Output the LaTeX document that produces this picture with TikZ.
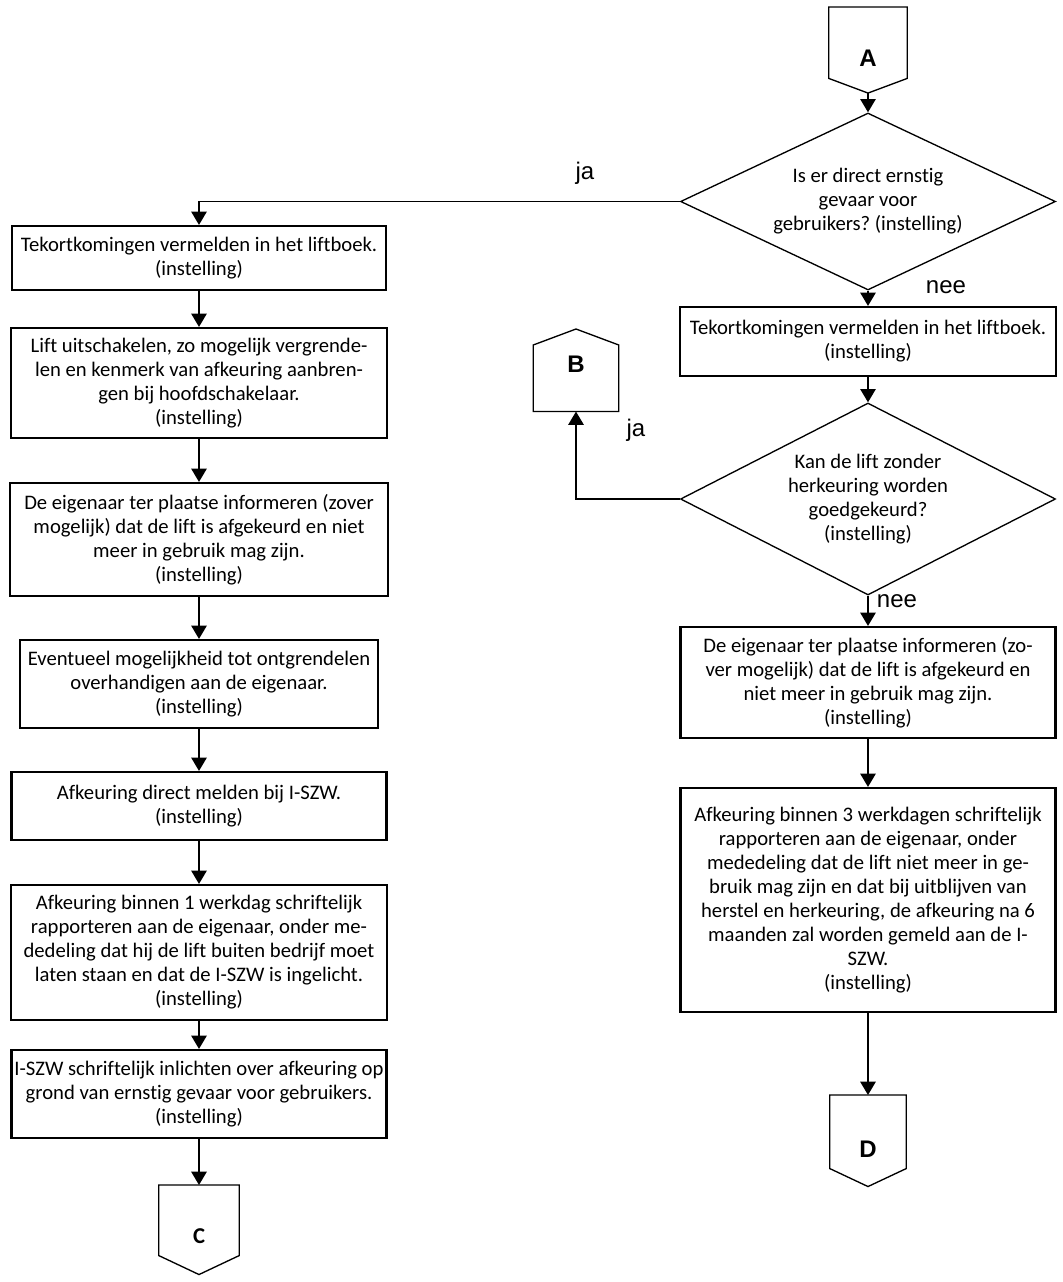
\documentclass[tikz,border=0pt]{standalone}
\usepackage{fontspec}
\setmainfont{Carlito}[Ligatures=NoCommon]
\newfontfamily\labelfont{Liberation Sans}
\usetikzlibrary{
  arrows.meta,
  shapes.geometric
}

\newcommand{\flowfont}{\fontsize{15.5pt}{18pt}\selectfont}
\frenchspacing

\begin{document}
\begin{tikzpicture}[
  x=0.75pt, y=-0.75pt,
  box/.style={
    rectangle, draw, line width=1.6pt,
    align=center, font=\flowfont, inner sep=0pt
  },
  choice/.style={
    diamond, draw, line width=1pt, shape aspect=2,
    align=center, font=\flowfont, inner sep=0pt
  },
  offpage/.style={
    inner sep=0pt,
    font=\labelfont\fontsize{18pt}{18pt}\selectfont\bfseries
  },
  shapeline/.style={line width=1pt},
  flow/.style={
    line width=1.4pt,
    -{Triangle[length=10pt, width=11.5pt]}
  },
  answer/.style={font=\labelfont\fontsize{18pt}{18pt}\selectfont}
]
  \useasboundingbox (0,0) rectangle (1063,1282);

  % Right column: start A, checks, end D
  \node[offpage, minimum width=58.5pt, text height=44.25pt,
    text depth=19.9pt, anchor=north] (a) at (868,7) {A};

  \node[choice, minimum width=281.25pt, minimum height=132.75pt]
    (q1) at (868,201.5)
    {Is er direct ernstig\\gevaar voor\\gebruikers? (instelling)};

  \node[box, minimum width=282pt, minimum height=51.75pt]
    (r1) at (868,341.5)
    {Tekortkomingen vermelden in het liftboek.\\(instelling)};

  \node[choice, minimum width=281.25pt, minimum height=144pt]
    (q2) at (868,499)
    {Kan de lift zonder\\herkeuring worden\\goedgekeurd?\\(instelling)};

  \node[offpage, minimum width=63.75pt, text height=32.25pt,
    text depth=29.25pt, anchor=north] (b) at (576,329) {B};

  \node[box, minimum width=281.25pt, minimum height=83.25pt]
    (r2) at (868,682.5)
    {De eigenaar ter plaatse informeren (zo-\\ver mogelijk) dat de lift is afgekeurd en\\niet meer in gebruik mag zijn.\\(instelling)};

  \node[box, minimum width=281.25pt, minimum height=168pt]
    (r3) at (868,900)
    {Afkeuring binnen 3 werkdagen schriftelijk\\rapporteren aan de eigenaar, onder\\mededeling dat de lift niet meer in ge-\\bruik mag zijn en dat bij uitblijven van\\herstel en herkeuring, de afkeuring na 6\\maanden zal worden gemeld aan de I-\\SZW.\\(instelling)};

  \node[offpage, minimum width=57pt, text height=46.5pt,
    text depth=21.75pt, anchor=north] (d) at (868,1095) {D};

  % Left column: direct danger
  \node[box, minimum width=280.5pt, minimum height=48pt]
    (l1) at (199,258)
    {Tekortkomingen vermelden in het liftboek.\\(instelling)};

  \node[box, minimum width=282pt, minimum height=82.5pt]
    (l2) at (199,383)
    {Lift uitschakelen, zo mogelijk vergrende-\\len en kenmerk van afkeuring aanbren-\\gen bij hoofdschakelaar.\\(instelling)};

  \node[box, minimum width=283.5pt, minimum height=84.75pt]
    (l3) at (199,539.5)
    {De eigenaar ter plaatse informeren (zover\\mogelijk) dat de lift is afgekeurd en niet\\meer in gebruik mag zijn.\\(instelling)};

  \node[box, minimum width=268.5pt, minimum height=66pt]
    (l4) at (199,684)
    {Eventueel mogelijkheid tot ontgrendelen\\overhandigen aan de eigenaar.\\(instelling)};

  \node[box, minimum width=281.25pt, minimum height=51pt]
    (l5) at (199,806)
    {Afkeuring direct melden bij I-SZW.\\(instelling)};

  \node[box, minimum width=282pt, minimum height=101.25pt]
    (l6) at (199,952.5)
    {Afkeuring binnen 1 werkdag schriftelijk\\rapporteren aan de eigenaar, onder me-\\dedeling dat hij de lift buiten bedrijf moet\\laten staan en dat de I-SZW is ingelicht.\\(instelling)};

  \node[box, minimum width=281.25pt, minimum height=66pt]
    (l7) at (199,1094)
    {I-SZW schriftelijk inlichten over afkeuring op\\grond van ernstig gevaar voor gebruikers.\\(instelling)};

  \node[offpage, minimum width=60pt, text height=43.5pt,
    text depth=23.25pt, anchor=north,
    font=\bfseries\fontsize{17pt}{17pt}\selectfont] (c) at (199,1185) {C};

  % Off-page connector outlines
  \foreach \n/\d in {a/11pt, c/14.25pt, d/13.5pt}
    \draw[shapeline] (\n.north west) -- (\n.north east)
      -- ([yshift=\d]\n.south east) -- (\n.south)
      -- ([yshift=\d]\n.south west) -- cycle;
  \draw[shapeline] (b.south west) -- (b.south east)
    -- ([yshift=-12pt]b.north east) -- (b.north)
    -- ([yshift=-12pt]b.north west) -- cycle;

  % Connectors
  \draw[flow] (a.south) -- (q1.north);
  \draw[flow] (q1.west) -| (l1.north);
  \draw[flow] (q1.south) -- (r1.north);
  \draw[flow] (r1.south) -- (q2.north);
  \draw[flow] (q2.west) -| (b.south);
  \draw[flow] (q2.south) -- (r2.north);
  \draw[flow] (r2.south) -- (r3.north);
  \draw[flow] (r3.south) -- (d.north);
  \foreach \s/\t in {l1/l2, l2/l3, l3/l4, l4/l5, l5/l6, l6/l7, l7/c}
    \draw[flow] (\s.south) -- (\t.north);

  % Answers
  \node[answer] (ja1) at (585,173) {ja};
  \node[answer] (nee1) at (946,287) {nee};
  \node[answer] (ja2) at (636,430) {ja};
  \node[answer] (nee2) at (897,601) {nee};
\end{tikzpicture}
\end{document}
